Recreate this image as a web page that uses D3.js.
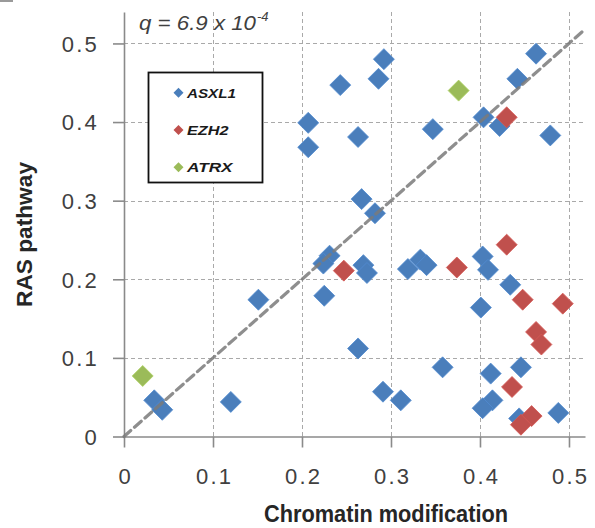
<!DOCTYPE html>
<html>
<head>
<meta charset="utf-8">
<script src="https://cdn.jsdelivr.net/npm/d3@7"></script>
<style>
  html, body { margin: 0; padding: 0; background: #fff; }
  svg { display: block; }
</style>
</head>
<body>
<svg id="chart" width="595" height="528"></svg>
<script>
// ---- Data ----
const seriesNames = ["ASXL1", "EZH2", "ATRX"];
const seriesColors = ["#4a7ebb", "#c0504d", "#9bbb59"];

const asxl1X = [0.463, 0.292, 0.286, 0.243, 0.442, 0.207, 0.207, 0.263, 0.347, 0.404,
                0.422, 0.479, 0.267, 0.282, 0.231, 0.224, 0.269, 0.273, 0.319, 0.333,
                0.340, 0.403, 0.409, 0.434, 0.225, 0.151, 0.401, 0.263, 0.358, 0.291,
                0.311, 0.412, 0.446, 0.414, 0.403, 0.488, 0.444, 0.034, 0.043, 0.120];
const asxl1Y = [0.487, 0.480, 0.455, 0.447, 0.455, 0.399, 0.368, 0.381, 0.391, 0.406,
                0.395, 0.383, 0.302, 0.284, 0.230, 0.220, 0.218, 0.208, 0.213, 0.225,
                0.218, 0.229, 0.212, 0.193, 0.179, 0.174, 0.164, 0.112, 0.088, 0.057,
                0.046, 0.080, 0.088, 0.046, 0.036, 0.030, 0.023, 0.046, 0.034, 0.044];

const ezh2X = [0.430, 0.247, 0.374, 0.430, 0.448, 0.493, 0.463, 0.469, 0.436, 0.458, 0.446];
const ezh2Y = [0.406, 0.211, 0.215, 0.244, 0.174, 0.169, 0.133, 0.117, 0.063, 0.026, 0.015];

const atrxX = [0.376, 0.021];
const atrxY = [0.440, 0.077];

const xTicks = [0, 0.1, 0.2, 0.3, 0.4, 0.5];
const yTicks = [0, 0.1, 0.2, 0.3, 0.4, 0.5];
const diagonalEnd = 0.515;

const xTitle = "Chromatin modification";
const yTitle = "RAS pathway";
const qText = "q = 6.9 x 10";
const qExp = "-4";

// ---- Build ----
const svg = d3.select("#chart");

const x = d3.scaleLinear().domain([0, 0.518]).range([124, 585]);
const y = d3.scaleLinear().domain([0, 0.54]).range([436.5, 12]);

const fmt = d => d === 0 ? "0" : d3.format(".1f")(d);

// small cropped mark top-left
svg.append("rect").attr("x", 0).attr("y", 0).attr("width", 13).attr("height", 2).attr("fill", "#9a9a9a");

// gridlines
const grid = svg.append("g").attr("stroke", "#a9a9a9").attr("stroke-width", 1).attr("stroke-dasharray", "4,3");
grid.selectAll("line.v").data(xTicks.filter(d => d > 0)).join("line")
  .attr("x1", d => Math.round(x(d)) + 0.5).attr("x2", d => Math.round(x(d)) + 0.5)
  .attr("y1", y.range()[1]).attr("y2", y(0));
grid.selectAll("line.h").data(yTicks.filter(d => d > 0)).join("line")
  .attr("y1", d => Math.round(y(d)) + 0.5).attr("y2", d => Math.round(y(d)) + 0.5)
  .attr("x1", x(0)).attr("x2", x.range()[1]);

// axes
const axisColor = "#8a8a8a";
const xAxis = svg.append("g").attr("transform", `translate(0,${y(0)})`)
  .call(d3.axisBottom(x).tickValues(xTicks).tickFormat(fmt).tickSize(11).tickSizeOuter(0).tickPadding(21));
const yAxis = svg.append("g").attr("transform", `translate(${x(0)},0)`)
  .call(d3.axisLeft(y).tickValues(yTicks).tickFormat(fmt).tickSize(11).tickSizeOuter(0).tickPadding(16));

[xAxis, yAxis].forEach(a => {
  a.select(".domain").attr("stroke", axisColor).attr("stroke-width", 1.6);
  a.selectAll(".tick line").attr("stroke", axisColor).attr("stroke-width", 1.6);
  a.selectAll(".tick text")
    .attr("fill", "#404040")
    .style("font-family", "'Liberation Sans', Arial, sans-serif")
    .style("font-size", "22px")
    .style("letter-spacing", "2.2px");
});
xAxis.selectAll(".tick text").attr("dx", "1.1px");
yAxis.selectAll(".tick text").attr("dy", "0.36em").attr("dx", "2px");

// markers
const diamond = (s) => `M0,${-s}L${s},0L0,${s}L${-s},0Z`;
const series = [
  { name: seriesNames[0], color: seriesColors[0], xs: asxl1X, ys: asxl1Y },
  { name: seriesNames[1], color: seriesColors[1], xs: ezh2X, ys: ezh2Y },
  { name: seriesNames[2], color: seriesColors[2], xs: atrxX, ys: atrxY }
];
series.forEach(s => {
  const pts = s.xs.map((v, i) => [v, s.ys[i]]);
  svg.append("g").selectAll("path").data(pts).join("path")
    .attr("d", diamond(10.5))
    .attr("transform", d => `translate(${x(d[0])},${y(d[1])})`)
    .attr("fill", s.color)
    .attr("stroke", d3.color(s.color).brighter(0.3))
    .attr("stroke-width", 0.8);
});

// diagonal dashed line (drawn over the markers)
svg.append("line")
  .attr("x1", x(0)).attr("y1", y(0))
  .attr("x2", x(diagonalEnd)).attr("y2", y(diagonalEnd))
  .attr("stroke", "#7a7a7a").attr("stroke-opacity", 0.85)
  .attr("stroke-width", 3.2).attr("stroke-dasharray", "9,5")
  .attr("stroke-linecap", "round");

// legend
const lg = svg.append("g");
lg.append("rect").attr("x", 148.5).attr("y", 72.5).attr("width", 114).attr("height", 110)
  .attr("fill", "#fff").attr("stroke", "#111").attr("stroke-width", 1.8);
const lgY = [92.7, 130, 167.3];
const lgLen = [49, 41.5, 45.5];
series.forEach((s, i) => {
  lg.append("path").attr("d", diamond(5)).attr("transform", `translate(178.5,${lgY[i]})`)
    .attr("fill", s.color);
  lg.append("text").attr("x", 187).attr("y", lgY[i] + 5)
    .attr("textLength", lgLen[i]).attr("lengthAdjust", "spacingAndGlyphs")
    .style("font-family", "'Liberation Sans', Arial, sans-serif")
    .style("font-size", "13.5px").style("font-weight", "bold").style("font-style", "italic")
    .attr("fill", "#1a1a1a").text(s.name);
});

// q annotation
const qt = svg.append("text").attr("x", 139).attr("y", 30)
  .style("font-family", "'Liberation Sans', Arial, sans-serif")
  .style("font-size", "20px").style("font-style", "italic").attr("fill", "#404040");
qt.append("tspan").text(qText).attr("textLength", 117).attr("lengthAdjust", "spacingAndGlyphs");
qt.append("tspan").text(qExp).attr("dy", -9).attr("dx", 1).style("font-size", "13px");

// axis titles
svg.append("text").attr("x", 386).attr("y", 522).attr("text-anchor", "middle")
  .attr("textLength", 244).attr("lengthAdjust", "spacingAndGlyphs")
  .style("font-family", "'Liberation Sans Narrow', 'Liberation Sans', Arial, sans-serif")
  .style("font-size", "24px").style("font-weight", "bold").attr("fill", "#262626")
  .text(xTitle);
svg.append("text").attr("transform", "translate(32,234.5) rotate(-90)").attr("text-anchor", "middle")
  .attr("textLength", 145).attr("lengthAdjust", "spacingAndGlyphs")
  .style("font-family", "'Liberation Sans', Arial, sans-serif")
  .style("font-size", "22px").style("font-weight", "bold").attr("fill", "#262626")
  .text(yTitle);
</script>
</body>
</html>
